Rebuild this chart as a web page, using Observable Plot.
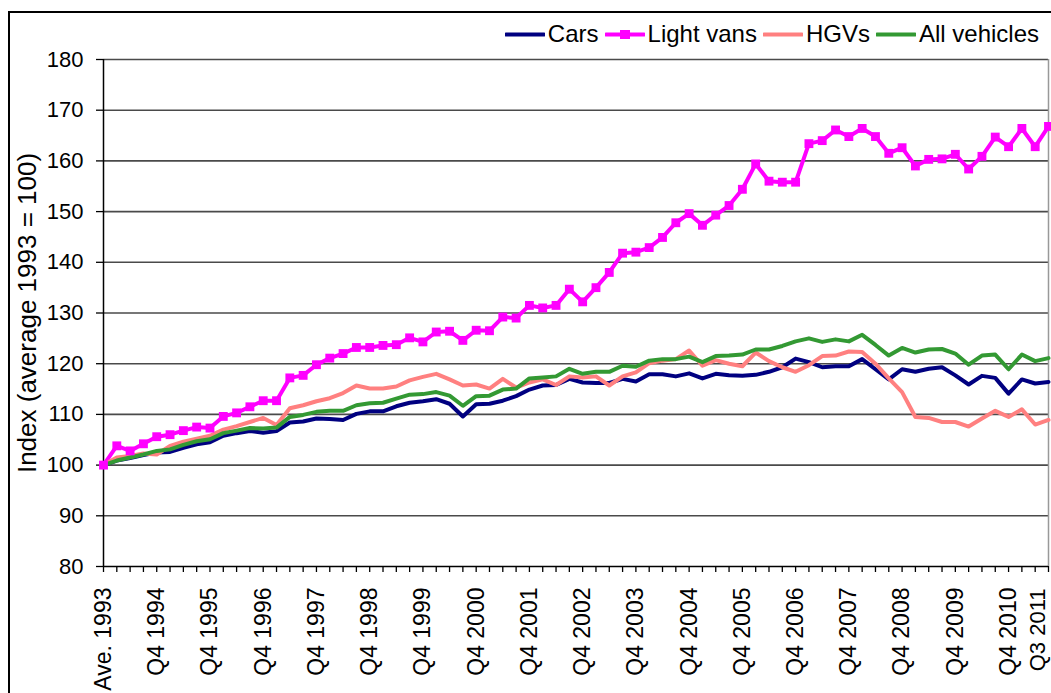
<!DOCTYPE html>
<html>
<head>
<meta charset="utf-8">
<script src="https://cdn.jsdelivr.net/npm/d3@7"></script>
<script src="https://cdn.jsdelivr.net/npm/@observablehq/plot@0.6"></script>
<style>
  html, body { margin: 0; padding: 0; background: #fff; overflow: hidden; }
  #wrap { position: relative; width: 1051px; height: 693px; overflow: hidden;
          font-family: Arial, "Liberation Sans", sans-serif; background: #fff; }
  #border { position: absolute; left: 8px; top: 11px; width: 3000px; height: 3000px;
            border-left: 2px solid #000; border-top: 2px solid #000; pointer-events: none; }
  #legend { position: relative; height: 48px; display: flex; justify-content: flex-end;
            align-items: center; padding-right: 12px; padding-top: 20px; box-sizing: border-box;
            font-size: 24px; color: #000; }
  .item { display: flex; align-items: center; margin-left: 6px; }
  .item svg { margin-right: 3px; }
</style>
</head>
<body>
<div id="wrap">
  <div id="legend"></div>
  <div id="chart"></div>
  <div id="border"></div>
</div>
<script>
// ---- Data ----
const quarters = [
  "Ave. 1993",
  "Q1 1994","Q2 1994","Q3 1994","Q4 1994",
  "Q1 1995","Q2 1995","Q3 1995","Q4 1995",
  "Q1 1996","Q2 1996","Q3 1996","Q4 1996",
  "Q1 1997","Q2 1997","Q3 1997","Q4 1997",
  "Q1 1998","Q2 1998","Q3 1998","Q4 1998",
  "Q1 1999","Q2 1999","Q3 1999","Q4 1999",
  "Q1 2000","Q2 2000","Q3 2000","Q4 2000",
  "Q1 2001","Q2 2001","Q3 2001","Q4 2001",
  "Q1 2002","Q2 2002","Q3 2002","Q4 2002",
  "Q1 2003","Q2 2003","Q3 2003","Q4 2003",
  "Q1 2004","Q2 2004","Q3 2004","Q4 2004",
  "Q1 2005","Q2 2005","Q3 2005","Q4 2005",
  "Q1 2006","Q2 2006","Q3 2006","Q4 2006",
  "Q1 2007","Q2 2007","Q3 2007","Q4 2007",
  "Q1 2008","Q2 2008","Q3 2008","Q4 2008",
  "Q1 2009","Q2 2009","Q3 2009","Q4 2009",
  "Q1 2010","Q2 2010","Q3 2010","Q4 2010",
  "Q1 2011","Q2 2011","Q3 2011"
];

const labelTicks = [
  "Ave. 1993","Q4 1994","Q4 1995","Q4 1996","Q4 1997","Q4 1998","Q4 1999",
  "Q4 2000","Q4 2001","Q4 2002","Q4 2003","Q4 2004","Q4 2005","Q4 2006",
  "Q4 2007","Q4 2008","Q4 2009","Q4 2010"
];
const lastLabel = ["Q3 2011"];

const yTicks = [80, 90, 100, 110, 120, 130, 140, 150, 160, 170, 180];
const gridValues = [90, 100, 110, 120, 130, 140, 150, 160, 170, 180];
const yTitle = "Index (average 1993 = 100)";

const seriesNames = ["Cars", "Light vans", "HGVs", "All vehicles"];
const seriesColors = ["#000080", "#FF00FF", "#FF8080", "#339933"];

const cars = [
  100, 100.9, 101.4, 102.0, 102.5, 102.6, 103.4, 104.1, 104.5, 105.8,
  106.3, 106.7, 106.4, 106.7, 108.4, 108.6, 109.2, 109.1, 108.9, 110.1,
  110.6, 110.6, 111.6, 112.3, 112.6, 113.0, 112.1, 109.6, 112.0, 112.1,
  112.7, 113.6, 114.9, 115.7, 115.8, 117.0, 116.3, 116.2, 116.2, 117.0,
  116.5, 117.9, 117.9, 117.5, 118.1, 117.1, 118.0, 117.7, 117.6, 117.8,
  118.4, 119.3, 121.0, 120.3, 119.3, 119.5, 119.5, 120.9, 118.9, 116.9,
  118.9, 118.4, 119.0, 119.3, 117.7, 115.9, 117.6, 117.2, 114.1, 116.9,
  116.1, 116.4
];

const lightVans = [
  100, 103.8, 102.8, 104.2, 105.6, 106.0, 106.8, 107.5, 107.3, 109.6,
  110.3, 111.5, 112.7, 112.7, 117.2, 117.7, 119.8, 121.1, 122.0, 123.2,
  123.2, 123.6, 123.75, 125.1, 124.3, 126.25, 126.4, 124.6, 126.6, 126.5,
  129.2, 129.0, 131.5, 131.0, 131.5, 134.7, 132.2, 135.0, 138.0, 141.8,
  142.0, 142.9, 144.9, 147.8, 149.6, 147.3, 149.3, 151.2, 154.4, 159.4,
  156.0, 155.8, 155.8, 163.4, 164.0, 166.1, 164.8, 166.4, 164.8, 161.5,
  162.6, 159.0, 160.3, 160.4, 161.3, 158.4, 160.9, 164.7, 162.8, 166.4,
  162.8, 166.8
];

const hgvs = [
  100, 101.5, 101.8, 102.3, 102.1, 103.8, 104.6, 105.2, 105.8, 107.0,
  107.7, 108.5, 109.3, 107.9, 111.2, 111.8, 112.6, 113.2, 114.2, 115.7,
  115.1, 115.1, 115.5, 116.7, 117.4, 118.0, 116.9, 115.7, 115.9, 115.1,
  117.0, 115.3, 116.3, 116.9, 115.8, 117.5, 117.3, 117.5, 115.7, 117.5,
  118.3, 120.1, 120.6, 120.9, 122.6, 119.6, 120.7, 120.0, 119.5, 122.2,
  120.5, 119.3, 118.4, 119.7, 121.5, 121.6, 122.4, 122.3, 120.0, 117.1,
  114.4, 109.5, 109.3, 108.5, 108.5, 107.6, 109.2, 110.7, 109.5, 111.0,
  108.0, 108.9
];

const allVehicles = [
  100, 100.9, 101.5, 102.1, 102.8, 103.1, 104.0, 104.7, 105.1, 106.3,
  106.8, 107.3, 107.2, 107.4, 109.5, 109.9, 110.5, 110.7, 110.7, 111.8,
  112.2, 112.3, 113.1, 113.9, 114.0, 114.4, 113.7, 111.7, 113.6, 113.7,
  114.9, 115.1, 117.1, 117.3, 117.5, 119.0, 118.0, 118.4, 118.4, 119.6,
  119.4, 120.6, 120.9, 120.9, 121.4, 120.3, 121.5, 121.6, 121.8, 122.8,
  122.8, 123.5, 124.4, 125.0, 124.3, 124.8, 124.4, 125.7, 123.7, 121.6,
  123.1, 122.2, 122.8, 122.9, 122.0, 119.8, 121.6, 121.8, 118.9, 121.8,
  120.5, 121.1
];

// ---- Build tables ----
const seriesValues = [cars, lightVans, hgvs, allVehicles];
const rows = [];
seriesNames.forEach((name, s) => {
  seriesValues[s].forEach((v, i) => rows.push({series: name, quarter: quarters[i], value: v}));
});
const vanRows = rows.filter(d => d.series === "Light vans");

// ---- Legend ----
const legend = document.getElementById("legend");
seriesNames.forEach((name, s) => {
  const item = document.createElement("div");
  item.className = "item";
  const marker = name === "Light vans"
    ? `<rect x="15" y="2" width="10" height="9" fill="${seriesColors[s]}"/>` : "";
  item.innerHTML = `<svg width="40" height="13"><line x1="1" x2="39" y1="6.5" y2="6.5" stroke="${seriesColors[s]}" stroke-width="4" stroke-linecap="round"/>${marker}</svg><span>${name}</span>`;
  legend.appendChild(item);
});

// ---- Chart ----
const chart = Plot.plot({
  width: 1051,
  height: 645,
  marginTop: 11,
  marginBottom: 127,
  marginLeft: 103,
  marginRight: 3,
  style: {fontFamily: "Arial, 'Liberation Sans', sans-serif", fontSize: "22px", color: "#000", background: "transparent", overflow: "visible"},
  x: {type: "point", domain: quarters, padding: 0, round: false},
  y: {domain: [80, 180]},
  color: {domain: seriesNames, range: seriesColors},
  marks: [
    Plot.ruleY(gridValues, {stroke: "#4a4a4a", strokeWidth: 1.6}),
    Plot.ruleX([quarters[quarters.length - 1]], {stroke: "#999", strokeWidth: 1.5}),
    Plot.axisY({ticks: yTicks, tickSize: 7, tickPadding: 13, label: null, stroke: "#000", strokeWidth: 1.3, fontSize: 22}),
    Plot.axisX({ticks: quarters, tickSize: 6, tickFormat: () => "", label: null, stroke: "#000", strokeWidth: 1.3}),
    Plot.axisX({ticks: labelTicks, tickSize: 0, tickRotate: -90, tickPadding: 21, label: null, fontSize: 23}),
    Plot.text(lastLabel, {x: d => d, frameAnchor: "bottom", rotate: -90, textAnchor: "end", lineAnchor: "middle", dy: 22, dx: -11, fontSize: 22, fill: "#000"}),
    Plot.ruleX([quarters[0]], {stroke: "#000", strokeWidth: 1.5}),
    Plot.ruleY([80], {stroke: "#000", strokeWidth: 1.5}),
    Plot.text([yTitle], {frameAnchor: "left", dx: -76, rotate: -90, textAnchor: "middle", fontSize: 26, fill: "#000"}),
    Plot.line(rows, {x: "quarter", y: "value", z: "series", stroke: "series", strokeWidth: 4, strokeLinejoin: "round"}),
    Plot.dot(vanRows, {x: "quarter", y: "value", symbol: "square", r: 5, fill: "#FF00FF", stroke: "none"})
  ]
});
document.getElementById("chart").appendChild(chart);
</script>
</body>
</html>
